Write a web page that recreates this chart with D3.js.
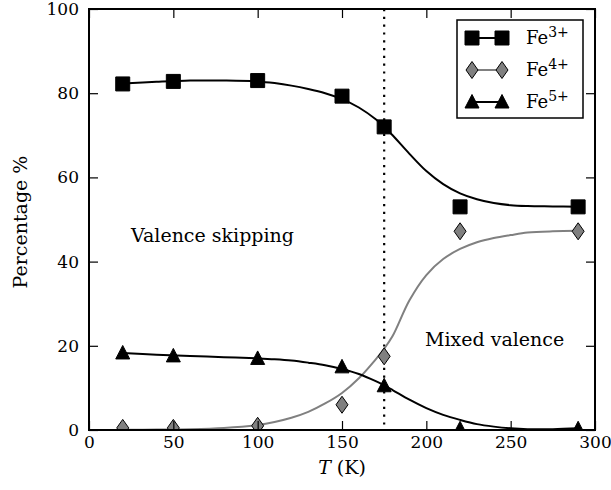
<!DOCTYPE html>
<html>
<head>
<meta charset="utf-8">
<script src="https://cdn.jsdelivr.net/npm/d3@7"></script>
<style>
  body { margin: 0; background: #fff; }
</style>
</head>
<body>
<div id="chart"></div>
<script>
// measured points
var temps = [20, 50, 100, 150, 175, 220, 290];
var fe3 = [82.2, 82.8, 83.0, 79.3, 72.0, 53.0, 53.0];
var fe4 = [0.5, 0.5, 1.0, 6.0, 17.5, 47.2, 47.2];
var fe5 = [18.3, 17.6, 17.0, 15.0, 10.5, 0.3, 0.3];

// fitted curves
var fitT = [20, 40, 60, 80, 100, 110, 120, 130, 140, 150, 160, 170, 175, 180, 190, 200, 210, 220, 230, 240, 250, 260, 275, 290];
var fe3Fit = [82.3, 82.7, 83.0, 83.0, 82.8, 82.4, 81.8, 81.0, 80.0, 78.6, 76.6, 73.8, 72.0, 70.0, 65.6, 61.5, 58.4, 56.2, 54.8, 53.9, 53.4, 53.2, 53.1, 53.0];
var fe4Fit = [0.05, 0.1, 0.2, 0.5, 1.2, 1.9, 2.9, 4.3, 6.3, 8.8, 12.3, 16.8, 19.3, 22.3, 30.8, 36.8, 40.6, 43.0, 44.6, 45.6, 46.3, 46.9, 47.2, 47.3];
var fe5Fit = [18.3, 17.9, 17.6, 17.3, 17.0, 16.8, 16.5, 16.0, 15.4, 14.5, 13.3, 11.6, 10.6, 9.5, 7.2, 5.2, 3.6, 2.4, 1.4, 0.8, 0.4, 0.2, 0.2, 0.4];

var xTicks = [0, 50, 100, 150, 200, 250, 300];
var yTicks = [0, 20, 40, 60, 80, 100];
var transitionT = 175;

var FONT = 'DejaVu Serif';
var W = 611, H = 490;
var margin = {top: 9, right: 16, bottom: 60, left: 89};
var width = W - margin.left - margin.right,
    height = H - margin.top - margin.bottom;

var svg = d3.select('#chart').append('svg')
    .attr('width', W)
    .attr('height', H)
    .attr('font-family', FONT);

var x = d3.scaleLinear().domain([0, 300]).range([0, width]);
var y = d3.scaleLinear().domain([0, 100]).range([height, 0]);

var g = svg.append('g')
    .attr('transform', 'translate(' + margin.left + ',' + margin.top + ')');

g.append('clipPath').attr('id', 'clip')
    .append('rect').attr('width', width).attr('height', height);

var plot = g.append('g').attr('clip-path', 'url(#clip)');

var line = d3.line()
    .x(function(d) { return x(d[0]); })
    .y(function(d) { return y(d[1]); })
    .curve(d3.curveCatmullRom);

// dotted transition line
plot.append('line')
    .attr('x1', x(transitionT)).attr('x2', x(transitionT))
    .attr('y1', 0).attr('y2', height)
    .attr('stroke', '#000')
    .attr('stroke-width', 2.2)
    .attr('stroke-dasharray', '2.2,5.6');

var series = [
  {name: '3+', fit: fe3Fit, pts: fe3, color: '#000', fill: '#000', shape: 'square'},
  {name: '4+', fit: fe4Fit, pts: fe4, color: '#808080', fill: '#808080', shape: 'diamond'},
  {name: '5+', fit: fe5Fit, pts: fe5, color: '#000', fill: '#000', shape: 'triangle'}
];

function markerPath(shape) {
  if (shape === 'square') return 'M-7,-7H7V7H-7Z';
  if (shape === 'diamond') return 'M0,-8.5L6,0L0,8.5L-6,0Z';
  return 'M0,-7.5L7,6L-7,6Z';
}

series.forEach(function(s) {
  plot.append('path')
      .datum(fitT.map(function(t, i) { return [t, s.fit[i]]; }))
      .attr('fill', 'none')
      .attr('stroke', s.color)
      .attr('stroke-width', 2)
      .attr('d', line);
});

series.forEach(function(s) {
  plot.selectAll('.m' + s.shape)
      .data(temps.map(function(t, i) { return [t, s.pts[i]]; }))
      .enter().append('path')
      .attr('class', 'm' + s.shape)
      .attr('transform', function(d) { return 'translate(' + x(d[0]) + ',' + y(d[1]) + ')'; })
      .attr('d', markerPath(s.shape))
      .attr('fill', s.fill)
      .attr('stroke', '#000')
      .attr('stroke-width', 1);
});

// axes: ticks inward on all four sides
var tickLen = 9;
g.append('g')
    .attr('transform', 'translate(0,' + height + ')')
    .call(d3.axisBottom(x).tickValues(xTicks).tickSizeInner(-tickLen).tickSizeOuter(0).tickPadding(6))
    .call(function(a) { a.select('.domain').remove(); });
g.append('g')
    .call(d3.axisTop(x).tickValues(xTicks).tickSizeInner(-tickLen).tickSizeOuter(0).tickFormat(''))
    .call(function(a) { a.select('.domain').remove(); });
g.append('g')
    .call(d3.axisLeft(y).tickValues(yTicks).tickSizeInner(-tickLen).tickSizeOuter(0).tickPadding(10))
    .call(function(a) { a.select('.domain').remove(); });
g.append('g')
    .attr('transform', 'translate(' + width + ',0)')
    .call(d3.axisRight(y).tickValues(yTicks).tickSizeInner(-tickLen).tickSizeOuter(0).tickFormat(''))
    .call(function(a) { a.select('.domain').remove(); });

// d3 axes set font-family on their groups; reset to the serif face
g.selectAll('g').attr('font-family', FONT);
g.selectAll('.tick line').attr('stroke', '#000').attr('stroke-width', 1.2);
g.selectAll('.tick text')
    .attr('fill', '#000')
    .attr('font-family', FONT)
    .attr('font-size', 17);

g.append('rect')
    .attr('width', width).attr('height', height)
    .attr('fill', 'none')
    .attr('stroke', '#000')
    .attr('stroke-width', 2);

// annotations
g.append('text')
    .attr('x', 42).attr('y', 233)
    .attr('font-family', FONT)
    .attr('font-size', 19)
    .text('Valence skipping');
g.append('text')
    .attr('x', 336).attr('y', 337)
    .attr('font-family', FONT)
    .attr('font-size', 19)
    .text('Mixed valence');

// axis titles
var xl = svg.append('text')
    .attr('x', margin.left + x(150))
    .attr('y', 474)
    .attr('text-anchor', 'middle')
    .attr('font-family', FONT)
    .attr('font-size', 19);
xl.append('tspan').attr('font-style', 'italic').text('T');
xl.append('tspan').text(' (K)');

svg.append('text')
    .attr('transform', 'translate(27,222) rotate(-90)')
    .attr('text-anchor', 'middle')
    .attr('font-family', FONT)
    .attr('font-size', 19)
    .text('Percentage %');

// legend
var lg = svg.append('g').attr('transform', 'translate(457,20)');
lg.append('rect')
    .attr('width', 126).attr('height', 98)
    .attr('fill', '#fff')
    .attr('stroke', '#000')
    .attr('stroke-width', 1.5);

series.forEach(function(s, i) {
  var row = lg.append('g').attr('transform', 'translate(0,' + (18 + i * 32) + ')');
  row.append('line')
      .attr('x1', 15).attr('x2', 45)
      .attr('stroke', s.color).attr('stroke-width', 2);
  [15, 45].forEach(function(px) {
    row.append('path')
        .attr('transform', 'translate(' + px + ',0)')
        .attr('d', markerPath(s.shape))
        .attr('fill', s.fill)
        .attr('stroke', '#000')
        .attr('stroke-width', 1);
  });
  var t = row.append('text')
      .attr('x', 69).attr('y', 6)
      .attr('font-family', FONT)
      .attr('font-size', 18);
  t.append('tspan').text('Fe');
  t.append('tspan').attr('dy', -7).attr('font-size', 14).text(s.name);
});
</script>
</body>
</html>
